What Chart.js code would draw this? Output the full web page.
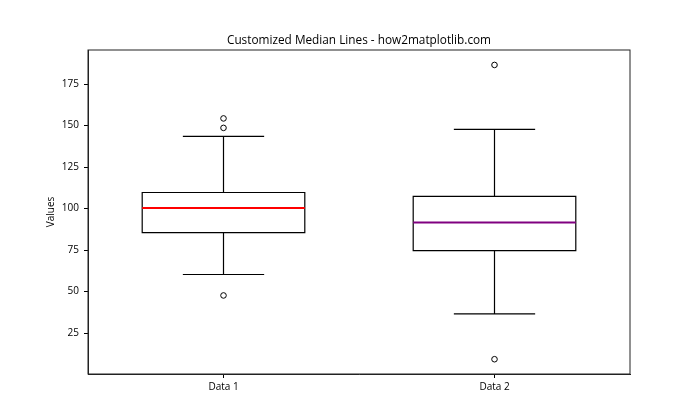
<!DOCTYPE html>
<html>
<head>
<meta charset="utf-8">
<script src="https://cdn.jsdelivr.net/npm/chart.js@4"></script>
<style>
html,body{margin:0;padding:0;background:#fff;}
#wrap{width:700px;height:420px;}
</style>
</head>
<body>
<div id="wrap"><canvas id="c" width="700" height="420"></canvas></div>
<script>
const categories = ['Data 1', 'Data 2'];
const positions = [1, 2];
const q1 = [85.5, 74.7];
const medians = [100.4, 91.7];
const q3 = [109.7, 107.4];
const whiskerLow = [60.3, 36.6];
const whiskerHigh = [143.5, 147.7];
const outliers1 = [154.3, 148.6, 47.7];
const outliers2 = [186.5, 9.3];
const medianColors = ['#ff0000', '#800080'];
const yTicks = [25, 50, 75, 100, 125, 150, 175];
const titleText = 'Customized Median Lines - how2matplotlib.com';

const outlierPoints = []
  .concat(outliers1.map(v => ({x: positions[0], y: v})))
  .concat(outliers2.map(v => ({x: positions[1], y: v})));

const BOX_W = 0.6;
const FONT = "'Open Sans', 'Noto Sans', sans-serif";

const boxPlugin = {
  id: 'boxes',
  beforeDatasetsDraw(chart) {
    const ctx = chart.ctx;
    const xs = chart.scales.x, ys = chart.scales.y;
    ctx.save();
    for (let i = 0; i < categories.length; i++) {
      const p = positions[i];
      const xl = xs.getPixelForValue(p - BOX_W / 2);
      const xr = xs.getPixelForValue(p + BOX_W / 2);
      const xc = xs.getPixelForValue(p);
      const cl = xs.getPixelForValue(p - BOX_W / 4);
      const cr = xs.getPixelForValue(p + BOX_W / 4);
      const yq1 = ys.getPixelForValue(q1[i]);
      const yq3 = ys.getPixelForValue(q3[i]);
      const ym = ys.getPixelForValue(medians[i]);
      const ylo = ys.getPixelForValue(whiskerLow[i]);
      const yhi = ys.getPixelForValue(whiskerHigh[i]);
      ctx.strokeStyle = '#000';
      ctx.lineWidth = 1.2;
      ctx.beginPath();
      ctx.rect(xl, yq3, xr - xl, yq1 - yq3);
      ctx.moveTo(xc, yq3); ctx.lineTo(xc, yhi);
      ctx.moveTo(xc, yq1); ctx.lineTo(xc, ylo);
      ctx.moveTo(cl, yhi); ctx.lineTo(cr, yhi);
      ctx.moveTo(cl, ylo); ctx.lineTo(cr, ylo);
      ctx.stroke();
      ctx.strokeStyle = medianColors[i];
      ctx.lineWidth = 2;
      ctx.beginPath();
      ctx.moveTo(xl, ym); ctx.lineTo(xr, ym);
      ctx.stroke();
    }
    ctx.restore();
  },
  afterDraw(chart) {
    const a = chart.chartArea, ctx = chart.ctx;
    ctx.save();
    ctx.strokeStyle = '#222';
    ctx.lineWidth = 1;
    ctx.strokeRect(a.left, a.top, a.right - a.left, a.bottom - a.top);
    ctx.fillStyle = '#000';
    ctx.font = '11.8px ' + FONT;
    ctx.textAlign = 'center';
    ctx.textBaseline = 'alphabetic';
    ctx.fillText(titleText, (a.left + a.right) / 2, a.top - 6);
    ctx.restore();
  }
};

new Chart(document.getElementById('c'), {
  type: 'scatter',
  data: {
    datasets: [{
      data: outlierPoints,
      pointStyle: 'circle',
      pointRadius: 2.8,
      pointHoverRadius: 2.8,
      borderColor: '#000',
      borderWidth: 1,
      backgroundColor: 'rgba(0,0,0,0)'
    }]
  },
  options: {
    responsive: false,
    animation: false,
    events: [],
    layout: {padding: {left: 45, right: 70, top: 50, bottom: 0}},
    plugins: {
      legend: {display: false},
      tooltip: {enabled: false},
      title: {display: false}
    },
    scales: {
      x: {
        type: 'linear',
        min: 0.5, max: 2.5,
        afterBuildTicks(s) { s.ticks = positions.map(v => ({value: v})); },
        afterFit(s) { s.height = 46; },
        ticks: {
          color: '#000',
          font: {family: FONT, size: 10},
          padding: 3,
          callback(v) { const i = positions.indexOf(v); return i >= 0 ? categories[i] : ''; }
        },
        grid: {display: true, drawOnChartArea: false, tickLength: 4, tickColor: '#000'},
        border: {display: true, color: '#222'}
      },
      y: {
        type: 'linear',
        min: 0.4, max: 195.5,
        afterBuildTicks(s) { s.ticks = yTicks.map(v => ({value: v})); },
        afterFit(s) { s.width = 43; },
        ticks: {color: '#000', font: {family: FONT, size: 10}, padding: 5},
        grid: {display: true, drawOnChartArea: false, tickLength: 4, tickColor: '#000'},
        border: {display: true, color: '#222'},
        title: {
          display: true,
          text: 'Values',
          color: '#000',
          font: {family: FONT, size: 10},
          padding: {top: 0, bottom: 0}
        }
      }
    }
  },
  plugins: [boxPlugin]
});
</script>
</body>
</html>
